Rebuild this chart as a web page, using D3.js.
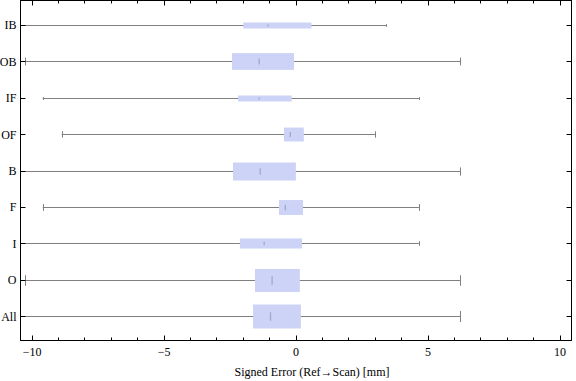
<!DOCTYPE html>
<html>
<head>
<meta charset="utf-8">
<script src="https://cdn.jsdelivr.net/npm/d3@7"></script>
<style>
  body { margin: 0; background: #fff; }
  svg { display: block; }
</style>
</head>
<body>
<script>
// data, top to bottom
var categories = ["IB", "OB", "IF", "OF", "B", "F", "I", "O", "All"];
var whiskerLow = [-10.8, -10.26, -9.58, -8.86, -10.8, -9.58, -10.8, -10.26, -10.8];
var q1 = [-1.98, -2.41, -2.18, -0.44, -2.37, -0.63, -2.11, -1.54, -1.61];
var median = [-1.04, -1.38, -1.38, -0.20, -1.34, -0.39, -1.19, -0.89, -0.95];
var q3 = [0.60, -0.06, -0.15, 0.31, 0.01, 0.28, 0.24, 0.16, 0.20];
var whiskerHigh = [3.43, 6.23, 4.67, 3.01, 6.23, 4.67, 4.67, 6.23, 6.23];
// relative sample weight -> box thickness
var weight = [0.25, 0.7, 0.25, 0.58, 0.75, 0.62, 0.42, 0.96, 1.0];
var xTicks = [-10, -5, 0, 5, 10];

var w = 576, h = 381;
var pLeft = 20.5, pRight = 571.5, pTop = 0.5, pBottom = 340.5;

var svg = d3.select("body").append("svg")
  .attr("width", w)
  .attr("height", h)
  .style("font-family", "'Liberation Serif', 'DejaVu Serif', serif");

var x = d3.scaleLinear().domain([-10.42, 10.45]).range([pLeft, pRight]);
var y = d3.scalePoint().domain(categories).range([pTop, pBottom]).padding(0.666);
var thick = d3.scaleLinear().domain([0, 1]).range([0, 24]);

var rows = categories.map(function(c, i) {
  return { cat: c, lo: whiskerLow[i], q1: q1[i], med: median[i], q3: q3[i], hi: whiskerHigh[i], wt: weight[i] };
});

svg.append("clipPath").attr("id", "plotclip")
  .append("rect").attr("x", pLeft).attr("y", pTop)
  .attr("width", pRight - pLeft).attr("height", pBottom - pTop);

var plot = svg.append("g").attr("clip-path", "url(#plotclip)");

var g = plot.selectAll("g.row")
  .data(rows)
  .enter()
  .append("g")
  .attr("class", "row")
  .attr("transform", function(d) { return "translate(0," + Math.round(y(d.cat)) + ")"; });

// whisker line
g.append("line")
  .attr("x1", function(d) { return x(d.lo); })
  .attr("x2", function(d) { return x(d.hi); })
  .attr("y1", 0.5).attr("y2", 0.5)
  .attr("stroke", "#808080").attr("stroke-width", 1);

// caps
function cap(key) {
  g.append("line")
    .attr("x1", function(d) { return Math.round(x(d[key])) + 0.5; })
    .attr("x2", function(d) { return Math.round(x(d[key])) + 0.5; })
    .attr("y1", function(d) { return 0.5 - thick(d.wt) * 0.23; })
    .attr("y2", function(d) { return 0.5 + thick(d.wt) * 0.23; })
    .attr("stroke", "#808080");
}
cap("lo");
cap("hi");

// box
g.append("rect")
  .attr("x", function(d) { return x(d.q1); })
  .attr("width", function(d) { return x(d.q3) - x(d.q1); })
  .attr("y", function(d) { return 0.5 - thick(d.wt) / 2; })
  .attr("height", function(d) { return thick(d.wt); })
  .attr("fill", "#ccd3f6");

// median mark
g.append("line")
  .attr("x1", function(d) { return x(d.med); })
  .attr("x2", function(d) { return x(d.med); })
  .attr("y1", function(d) { return 0.5 - thick(d.wt) * 0.18; })
  .attr("y2", function(d) { return 0.5 + thick(d.wt) * 0.18; })
  .attr("stroke", "#a3a8c8").attr("stroke-width", 1.3);

// frame
svg.append("rect")
  .attr("x", pLeft).attr("y", pTop)
  .attr("width", pRight - pLeft).attr("height", pBottom - pTop)
  .attr("fill", "none").attr("stroke", "#000").attr("stroke-width", 1);

// x tick labels
var axisB = d3.axisBottom(x).tickValues(xTicks).tickSize(0).tickPadding(0)
  .tickFormat(function(d) { return d < 0 ? "\u2212" + Math.abs(d) : d; });
var ax = svg.append("g").attr("transform", "translate(0," + pBottom + ")").call(axisB);
ax.select(".domain").remove();
ax.selectAll("text").attr("y", 15).attr("dy", 0).attr("fill", "#000")
  .style("font-size", "12px").style("font-family", "'Liberation Serif', serif");

// x tick marks, bottom and top
var minor = d3.range(-10, 11).filter(function(v) { return v % 5 !== 0; });
function xTickMarks(vals, len) {
  svg.selectAll(null).data(vals).enter().append("line")
    .attr("x1", function(d) { return Math.round(x(d)) + 0.5; })
    .attr("x2", function(d) { return Math.round(x(d)) + 0.5; })
    .attr("y1", pBottom).attr("y2", pBottom - len)
    .attr("stroke", "#000");
  svg.selectAll(null).data(vals).enter().append("line")
    .attr("x1", function(d) { return Math.round(x(d)) + 0.5; })
    .attr("x2", function(d) { return Math.round(x(d)) + 0.5; })
    .attr("y1", pTop).attr("y2", pTop + len)
    .attr("stroke", "#000");
}
xTickMarks(xTicks, 5);
xTickMarks(minor, 3);

// category ticks on left and right
svg.selectAll(null).data(categories).enter().append("line")
  .attr("x1", pLeft).attr("x2", pLeft + 5)
  .attr("y1", function(d) { return Math.round(y(d)) + 0.5; })
  .attr("y2", function(d) { return Math.round(y(d)) + 0.5; })
  .attr("stroke", "#000");
svg.selectAll(null).data(categories).enter().append("line")
  .attr("x1", pRight).attr("x2", pRight - 5)
  .attr("y1", function(d) { return Math.round(y(d)) + 0.5; })
  .attr("y2", function(d) { return Math.round(y(d)) + 0.5; })
  .attr("stroke", "#000");

svg.selectAll("text.cat").data(categories).enter().append("text")
  .attr("class", "cat")
  .attr("x", 16.5)
  .attr("y", function(d) { return y(d) + 4.5; })
  .attr("text-anchor", "end")
  .style("font-size", "12px")
  .text(function(d) { return d; });

svg.append("text")
  .attr("x", (pLeft + pRight) / 2 + 16)
  .attr("y", 376)
  .attr("text-anchor", "middle")
  .style("font-size", "12px")
  .text("Signed Error (Ref\u2192Scan) [mm]");
</script>
</body>
</html>
